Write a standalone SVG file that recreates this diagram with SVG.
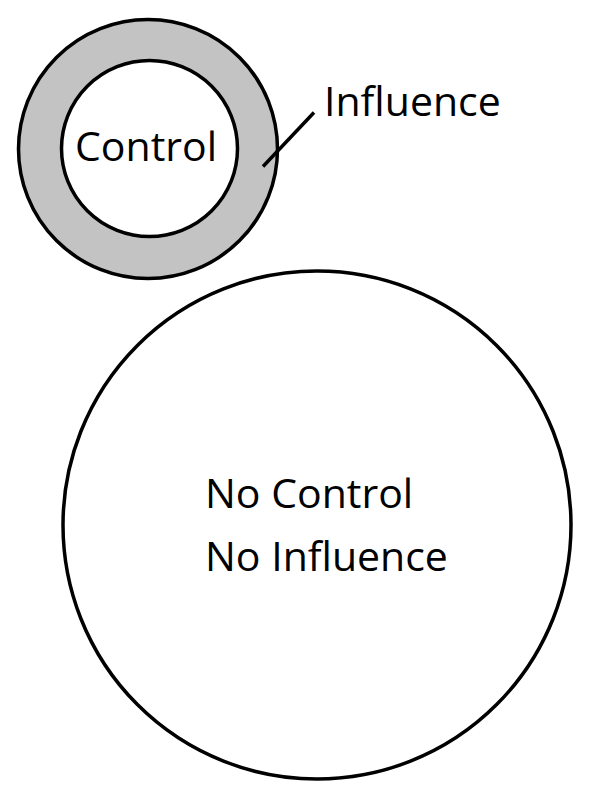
<svg xmlns="http://www.w3.org/2000/svg" width="600" height="800" viewBox="0 0 600 800">
<style>
.c{stroke:#000;stroke-width:3.5}
.t{font-family:"Open Sans","Noto Sans",sans-serif;font-size:41px;fill:#000}
</style>
<rect width="600" height="800" fill="#fff"/>
<g id="influence">
<circle class="c" cx="148" cy="149" r="129.5" fill="#c3c3c3"/>
</g>
<g id="control">
<circle class="c" cx="149.5" cy="148.5" r="88" fill="#fff"/>
<text class="t" x="75" y="161">Control</text>
</g>
<g id="connectors">
<line class="c" x1="263" y1="166.5" x2="314" y2="112.5"/>
</g>
<g id="influence-label">
<text class="t" x="324" y="116">Influence</text>
</g>
<g id="no-control">
<circle class="c" cx="317" cy="525" r="254" fill="#fff"/>
<text class="t" x="205" y="508">No Control</text>
<text class="t" x="205" y="571">No Influence</text>
</g>
</svg>
